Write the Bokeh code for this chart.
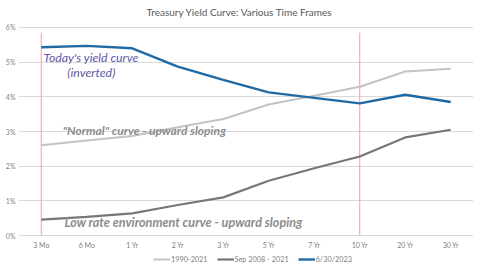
from bokeh.plotting import figure
from bokeh.models import FactorRange, Range1d, Label, Legend, LegendItem, FixedTicker, CustomJSTickFormatter
from bokeh.embed import file_html
from bokeh.resources import INLINE
from bokeh.core.properties import value

maturities = ["3 Mo", "6 Mo", "1 Yr", "2 Yr", "3 Yr", "5 Yr", "7 Yr", "10 Yr", "20 Yr", "30 Yr"]
avg_1990_2021 = [2.60, 2.74, 2.87, 3.12, 3.36, 3.78, 4.03, 4.29, 4.73, 4.81]
sep2008_2021 = [0.46, 0.54, 0.64, 0.88, 1.10, 1.58, 1.94, 2.28, 2.83, 3.05]
jun30_2023 = [5.43, 5.47, 5.40, 4.87, 4.49, 4.13, 3.97, 3.81, 4.06, 3.85]
y_ticks = [0, 1, 2, 3, 4, 5, 6]
marker_maturities = ["3 Mo", "10 Yr"]
series_names = ["1990-2021", "Sep 2008 - 2021", "6/30/2023"]
title_text = "Treasury Yield Curve: Various Time Frames"

FONT = "Lato"
PX = 34.667  # pixels per percentage point

p = figure(width=480, height=270, output_backend="svg", toolbar_location=None,
           x_range=FactorRange(*maturities, range_padding=0),
           y_range=Range1d(-35 / PX, 6 + 27 / PX),
           min_border_left=18, min_border_right=7, min_border_top=0, min_border_bottom=0)
p.outline_line_color = None
p.xgrid.grid_line_color = None
p.ygrid.grid_line_color = "#d9d9d9"
p.ygrid.grid_line_width = 1
p.ygrid.ticker = FixedTicker(ticks=y_ticks)

p.xaxis.visible = False
yax = p.yaxis[0]
yax.ticker = FixedTicker(ticks=y_ticks)
yax.formatter = CustomJSTickFormatter(code="return tick.toFixed(0) + '%';")
yax.axis_line_color = None
yax.major_tick_line_color = None
yax.minor_tick_line_color = None
yax.major_tick_out = 0
yax.major_tick_in = 0
yax.minor_tick_out = 0
yax.minor_tick_in = 0
yax.major_label_text_font = FONT
yax.major_label_text_font_size = "7px"
yax.major_label_text_color = "#7f7f7f"
yax.major_label_standoff = 3

# category labels along the bottom
p.text(x=maturities, y=[-9 / PX] * len(maturities), text=maturities,
       text_align="center", text_baseline="middle", text_font=value(FONT),
       text_font_size="7px", text_color="#7f7f7f")

# red reference lines
p.segment(x0=marker_maturities, y0=[0, 0], x1=marker_maturities, y1=[5.85, 5.85],
          line_color="#ee9f9c", line_width=1)

r1 = p.line(maturities, avg_1990_2021, line_color="#c3c3c3", line_width=2)
r2 = p.line(maturities, sep2008_2021, line_color="#777777", line_width=2.2)
r3 = p.line(maturities, jun30_2023, line_color="#1f6aa5", line_width=2.4)

legend = Legend(items=[LegendItem(label=series_names[0], renderers=[r1]),
                       LegendItem(label=series_names[1], renderers=[r2]),
                       LegendItem(label=series_names[2], renderers=[r3])],
                orientation="horizontal", location=(135, 6),
                border_line_color=None, background_fill_alpha=0,
                label_text_font=FONT, label_text_font_size="7.3px", label_text_color="#7f7f7f",
                glyph_width=17, glyph_height=10, label_standoff=1, spacing=9,
                padding=0, margin=0, label_height=10)
p.add_layout(legend, "center")

p.add_layout(Label(x=4.86, y=6 + 15 / PX, text=title_text, text_align="center", text_baseline="middle",
                   text_font=FONT, text_font_size="10px", text_color="#595959"))
p.add_layout(Label(x=0.55, y=5.13, text="Today's yield curve", text_align="left", text_baseline="middle",
                   text_font=FONT, text_font_style="italic", text_font_size="12.3px", text_color="#5b57a6"))
p.add_layout(Label(x=1.6, y=4.70, text="(inverted)", text_align="center", text_baseline="middle",
                   text_font=FONT, text_font_style="italic", text_font_size="12.3px", text_color="#5b57a6"))
p.add_layout(Label(x=0.97, y=3.03, text="\"Normal\" curve - upward sloping", text_align="left",
                   text_baseline="middle", text_font=FONT, text_font_style="bold italic",
                   text_font_size="12px", text_color="#8c8c8c"))
p.add_layout(Label(x=1.01, y=0.37, text="Low rate environment curve - upward sloping", text_align="left",
                   text_baseline="middle", text_font=FONT, text_font_style="bold italic",
                   text_font_size="12.6px", text_color="#8c8c8c"))

open("out.html", "w").write(file_html(p, INLINE))
